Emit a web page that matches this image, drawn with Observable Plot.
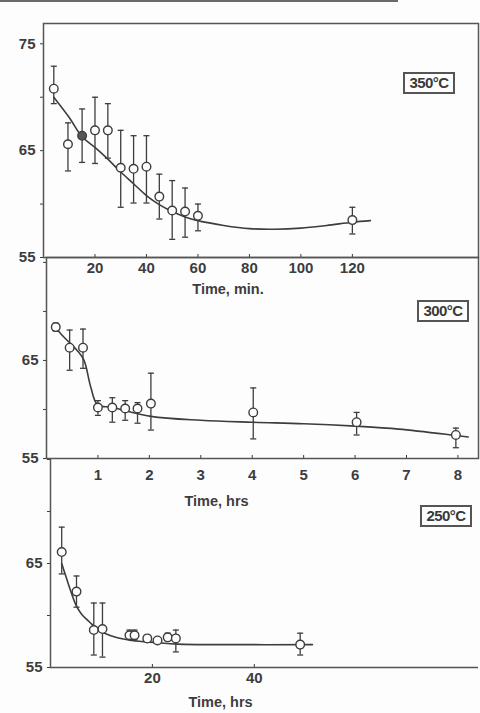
<!DOCTYPE html>
<html>
<head>
<meta charset="utf-8">
<script src="https://cdn.jsdelivr.net/npm/d3@7"></script>
<script src="https://cdn.jsdelivr.net/npm/@observablehq/plot@0.6"></script>
<style>
  html, body { margin: 0; padding: 0; background: #fdfdfd; }
  #wrap { position: relative; width: 480px; height: 713px; overflow: hidden; font-family: "Liberation Sans", Arial, sans-serif; }
  #wrap svg { position: absolute; left: 0; top: 0; }
  .rule-top { position: absolute; left: 0; top: 0; width: 398px; height: 2px; background: #6a6a6a; }
  .tag { position: absolute; border: 2px solid #555; color: #3a3a3a; font-weight: bold; font-size: 15px; line-height: 17px; text-align: center; letter-spacing: -0.6px; background: #fdfdfd; }
</style>
</head>
<body>
<div id="wrap"><div class="rule-top"></div></div>
<script>
// ---------- 350 °C panel (time in minutes) ----------
const t350  = [4, 9.5, 15, 20, 25, 30, 35, 40, 45, 50, 55, 60, 120];
const v350  = [70.8, 65.6, 66.4, 66.9, 66.9, 63.4, 63.3, 63.5, 60.7, 59.4, 59.3, 58.9, 58.5];
const lo350 = [69.4, 63.1, 63.9, 63.8, 64.3, 59.7, 60.1, 60.1, 58.6, 56.7, 56.9, 57.5, 57.2];
const hi350 = [72.9, 67.6, 68.9, 70.0, 69.4, 66.9, 66.4, 66.4, 62.8, 62.2, 61.5, 60.0, 59.7];
const filled350 = [15];
const ct350 = [4, 10, 15, 20, 25, 30, 35, 40, 45, 50, 55, 60, 70, 80, 90, 100, 110, 120, 127];
const cy350 = [70.0, 68.1, 66.3, 65.3, 64.2, 63.0, 61.9, 60.8, 59.95, 59.3, 58.8, 58.45, 58.0, 57.7, 57.65, 57.75, 58.0, 58.3, 58.45];
const xTicks350 = [20, 40, 60, 80, 100, 120];

// ---------- 300 °C panel (time in hours) ----------
const t300  = [0.18, 0.45, 0.71, 1.0, 1.28, 1.53, 1.77, 2.03, 4.02, 6.03, 7.96];
const v300  = [68.4, 66.3, 66.3, 60.2, 60.2, 60.1, 60.1, 60.6, 59.7, 58.7, 57.4];
const lo300 = [68.0, 64.0, 64.2, 59.4, 58.7, 58.9, 58.6, 57.9, 57.0, 57.4, 56.1];
const hi300 = [68.8, 68.1, 68.2, 60.9, 61.2, 60.9, 60.7, 63.7, 62.2, 59.7, 58.1];
const ct300 = [0.18, 0.3, 0.45, 0.6, 0.73, 0.86, 0.99, 1.28, 2.03, 3, 4, 5, 6, 6.85, 7.96, 8.2];
const cy300 = [68.3, 67.6, 66.8, 66.0, 65.0, 62.3, 60.5, 60.2, 59.3, 58.9, 58.7, 58.55, 58.3, 58.0, 57.35, 57.2];
const xTicks300 = [1, 2, 3, 4, 5, 6, 7, 8];

// ---------- 250 °C panel (time in hours) ----------
const t250  = [2.2, 5.1, 8.5, 10.2, 15.5, 16.5, 19, 21, 23, 24.6, 49];
const v250  = [66.1, 62.3, 58.6, 58.7, 58.1, 58.1, 57.8, 57.6, 57.9, 57.8, 57.2];
const lo250 = [64.0, 60.8, 56.2, 56.0, 57.7, 57.7, 57.6, 57.4, 57.6, 56.5, 56.2];
const hi250 = [68.5, 63.8, 61.2, 61.2, 58.6, 58.6, 58.0, 57.8, 58.3, 58.6, 58.3];
const ct250 = [2.2, 3, 4, 5, 6, 7.6, 9.5, 12.8, 16, 20.7, 25, 35, 51.4];
const cy250 = [65.0, 63.8, 62.3, 61.0, 60.2, 59.4, 58.6, 57.9, 57.6, 57.4, 57.25, 57.2, 57.2];
const xTicks250 = [20, 40];

const yTicks = [55, 60, 65, 70, 75];
const ink = "#3d3d3d";
const capSymbol = { draw(ctx, size) { const w = Math.sqrt(size) / 2; ctx.moveTo(-w, 0); ctx.lineTo(w, 0); } };

function panel(o) {
  const pts = o.t.map((t, i) => ({t, v: o.v[i], lo: o.lo[i], hi: o.hi[i], dark: (o.filled || []).includes(t)}));
  const curve = o.ct.map((t, i) => ({t, v: o.cy[i]}));
  const marks = [
    Plot.axisY({ticks: yTicks, tickFormat: d => o.yLabels.includes(d) ? d : "", tickSize: 3, tickPadding: 5, stroke: ink}),
    Plot.axisX({ticks: o.xTicks, tickSize: -3, tickPadding: o.tickPad, label: null, stroke: ink}),
    Plot.line(curve, {x: "t", y: "v", curve: "catmull-rom", stroke: ink, strokeWidth: 1.6}),
    Plot.ruleX(pts, {x: "t", y1: "lo", y2: "hi", stroke: ink, strokeWidth: 1.3}),
    Plot.dot(pts, {x: "t", y: "lo", symbol: capSymbol, r: 3.4, stroke: ink, strokeWidth: 1.3}),
    Plot.dot(pts, {x: "t", y: "hi", symbol: capSymbol, r: 3.4, stroke: ink, strokeWidth: 1.3}),
    Plot.dot(pts, {x: "t", y: "v", r: 4.3, stroke: ink, strokeWidth: 1.4, fill: d => d.dark ? "#555" : "#fdfdfd"}),
    Plot.text([o.xLabel], {frameAnchor: "bottom", dx: o.labelDx, dy: o.labelDy, fill: ink, fontSize: 14.5, fontWeight: "bold"})
  ];
  if (o.fullFrame) marks.unshift(Plot.frame({stroke: "#555", strokeWidth: 1.5}));
  else marks.unshift(
    Plot.ruleY([o.yDomain[0]], {stroke: "#555", strokeWidth: 1.5}),
    Plot.ruleX([o.xDomain[0]], {stroke: "#555", strokeWidth: 1.5})
  );
  return Plot.plot({
    width: 480, height: 713,
    marginLeft: o.marginLeft, marginRight: 2, marginTop: o.marginTop, marginBottom: o.marginBottom,
    x: {domain: o.xDomain},
    y: {domain: o.yDomain},
    style: {background: "transparent", color: ink, fontFamily: "'Liberation Sans', Arial, sans-serif", fontSize: "15px", fontWeight: "bold"},
    marks
  });
}

const wrap = document.getElementById("wrap");
wrap.append(panel({t: t350, v: v350, lo: lo350, hi: hi350, ct: ct350, cy: cy350, filled: filled350,
  xDomain: [0, 169], yDomain: [55, 76.9], xTicks: xTicks350, yLabels: [55, 65, 75],
  marginLeft: 43, marginTop: 23, marginBottom: 456, tickPad: 8, xLabel: "Time, min.", labelDx: -33, labelDy: 36, fullFrame: true}));
wrap.append(panel({t: t300, v: v300, lo: lo300, hi: hi300, ct: ct300, cy: cy300,
  xDomain: [0, 8.4], yDomain: [55, 75.5], xTicks: xTicks300, yLabels: [55, 65],
  marginLeft: 46, marginTop: 257, marginBottom: 255, tickPad: 14, xLabel: "Time, hrs", labelDx: -46, labelDy: 47, fullFrame: true}));
wrap.append(panel({t: t250, v: v250, lo: lo250, hi: hi250, ct: ct250, cy: cy250,
  xDomain: [0, 84], yDomain: [55, 75.1], xTicks: xTicks250, yLabels: [55, 65],
  marginLeft: 50, marginTop: 458, marginBottom: 46, tickPad: 8, xLabel: "Time, hrs", labelDx: -44, labelDy: 39, fullFrame: false}));

const tags = [["350°C", 403, 72], ["300°C", 417, 300], ["250°C", 420, 505]];
for (const [txt, x, y] of tags) {
  const d = document.createElement("div");
  d.className = "tag";
  d.textContent = txt;
  d.style.left = x + "px"; d.style.top = y + "px"; d.style.width = "48px"; d.style.height = "18px";
  wrap.append(d);
}
</script>
</body>
</html>
